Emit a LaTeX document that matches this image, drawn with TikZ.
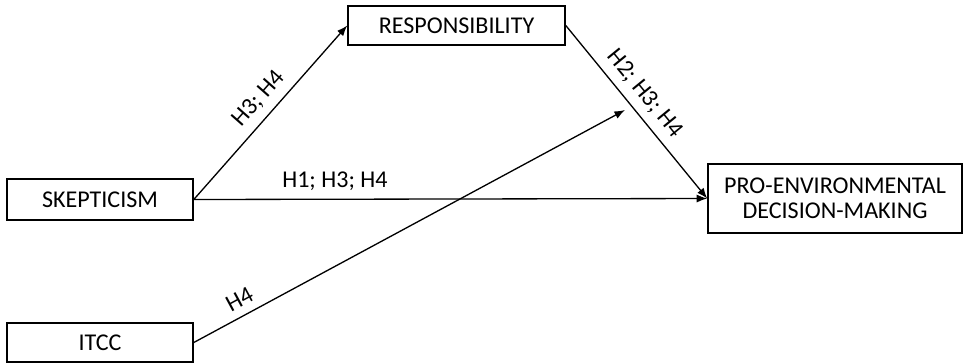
\documentclass[tikz,border=0pt]{standalone}
\usepackage{fontspec}
\setmainfont{Carlito}
\usetikzlibrary{arrows.meta}
\usetikzlibrary{positioning}

\begin{document}
\begin{tikzpicture}[x=0.02cm,y=-0.02cm,
  box/.style={draw=black,line width=0.9pt,inner sep=0pt,align=center,font=\fontsize{13.7}{14.4}\selectfont},
  conn/.style={-{Latex[length=6pt,width=4.6pt]},line width=0.75pt},
  lbl/.style={font=\fontsize{13.7}{16}\selectfont,sloped,above,inner sep=4.5pt}]
\useasboundingbox (0,0) rectangle (963,363);

\node[box,minimum width=186*0.02cm,minimum height=41*0.02cm] (skep) at (100,199.5) {SKEPTICISM};
\node[box,minimum width=186*0.02cm,minimum height=39*0.02cm] (itcc) at (100,342.5) {ITCC};
\node[box,minimum width=217*0.02cm,minimum height=39*0.02cm] (resp) at (456.5,25.5) {RESPONSIBILITY};
\node[box,minimum width=254*0.02cm,minimum height=69*0.02cm] (pro) at (835,198.5) {PRO-ENVIRONMENTAL\\DECISION-MAKING};
\coordinate (mid) at (625,110);

\draw[conn] (skep.east) -- node[lbl,pos=0.51] (h34) {H3; H4} (resp.west);
\draw[conn] (skep.east) -- node[lbl,pos=0.275] (h134) {H1; H3; H4} (pro.west);
\draw[conn] (resp.east) -- node[lbl,pos=0.46] (h234) {H2; H3; H4} (pro.west);
\draw[conn] (itcc.east) -- node[lbl,pos=0.124] (h4) {H4} (mid);

\end{tikzpicture}
\end{document}
